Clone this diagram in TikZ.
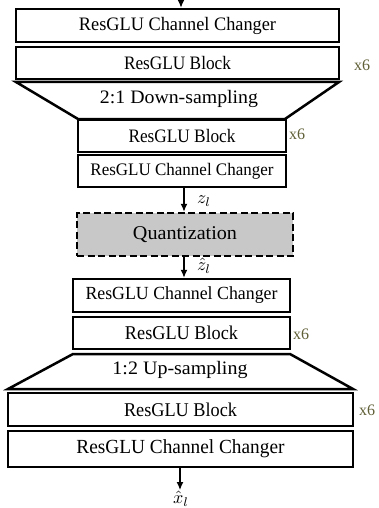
\documentclass[tikz,border=0pt]{standalone}
\usepackage{fontspec}
\setmainfont{Liberation Serif}
\usetikzlibrary{arrows.meta}
\definecolor{oliveSix}{RGB}{95,95,55}
\definecolor{qgray}{RGB}{200,200,200}
\newcommand{\fitw}[3]{{\fontsize{#2}{#2}\selectfont\resizebox{#1}{\height}{#3}}}
\newcommand{\mlabtxt}[1]{\scalebox{1.8}{#1}}
\tikzset{
  blk/.style={draw, line width=2.5pt, inner sep=0pt, fill=white},
  qbox/.style={draw, line width=2.5pt, inner sep=0pt, fill=qgray, dash pattern=on 7pt off 3.5pt},
  trap/.style={draw, line width=2.5pt, line join=miter},
  arr/.style={line width=1.3pt, -{Latex[length=8pt,width=7pt]}},
  rep/.style={text=oliveSix, font=\fontsize{16}{16}\selectfont, inner sep=0pt},
  mlab/.style={inner sep=0pt},
}
\begin{document}
\begin{tikzpicture}[x=1pt,y=-1pt]
\useasboundingbox (0,0) rectangle (378,508);
% encoder
\coordinate (in) at (181,0);
\node[blk, minimum width=323pt, minimum height=33pt] (b1) at (177.5,25.5) {\fitw{197pt}{19}{ResGLU Channel Changer}};
\node[blk, minimum width=323pt, minimum height=32pt] (b2) at (177.5,63) {\fitw{107pt}{19}{ResGLU Block}};
\node[rep] (r1) at (362,65) {x6};
\draw[trap] (16,82) -- (339,82) -- (285,119) -- (78,119) -- cycle;
\node (d1) at (179,99) {\fitw{158pt}{19}{2:1 Down-sampling}};
\node[blk, minimum width=208pt, minimum height=32pt] (b3) at (182,136) {\fitw{107pt}{19}{ResGLU Block}};
\node[rep] (r2) at (297,134) {x6};
\node[blk, minimum width=208pt, minimum height=32pt] (b4) at (182,171) {\fitw{183pt}{17.6}{ResGLU Channel Changer}};
% quantization
\node[qbox, minimum width=216pt, minimum height=43pt] (q) at (185,234.5) {\fitw{104pt}{19.5}{Quantization}};
% decoder
\node[blk, minimum width=217pt, minimum height=33pt] (b5) at (181.5,295.5) {\fitw{192pt}{18.5}{ResGLU Channel Changer}};
\node[blk, minimum width=217pt, minimum height=32pt] (b6) at (181.5,333) {\fitw{113pt}{19.5}{ResGLU Block}};
\node[rep] (r3) at (301,334) {x6};
\draw[trap] (73,354) -- (290,354) -- (353,389) -- (8,389) -- cycle;
\node (u1) at (180,370) {\fitw{135pt}{19}{1:2 Up-sampling}};
\node[blk, minimum width=345pt, minimum height=33pt] (b7) at (180.5,409.5) {\fitw{113pt}{19.5}{ResGLU Block}};
\node[rep] (r4) at (367,410) {x6};
\node[blk, minimum width=345pt, minimum height=36pt] (b8) at (180.5,449) {\fitw{208pt}{20}{ResGLU Channel Changer}};
\coordinate (out) at (180,490);
\node[mlab] (xl) at (181,499) {\mlabtxt{$\hat{x}_l$}};
% connectors
\draw[arr] (in) -- (in |- b1.north);
\draw[arr] (184,0 |- b4.south) -- (184,0 |- q.north);
\node[mlab] (zl) at (204,201) {\mlabtxt{$z_l$}};
\draw[arr] (184,0 |- q.south) -- (184,0 |- b5.north);
\node[mlab] (zh) at (204,266) {\mlabtxt{$\hat{z}_l$}};
\draw[arr] (out |- b8.south) -- (out);
\end{tikzpicture}
\end{document}
